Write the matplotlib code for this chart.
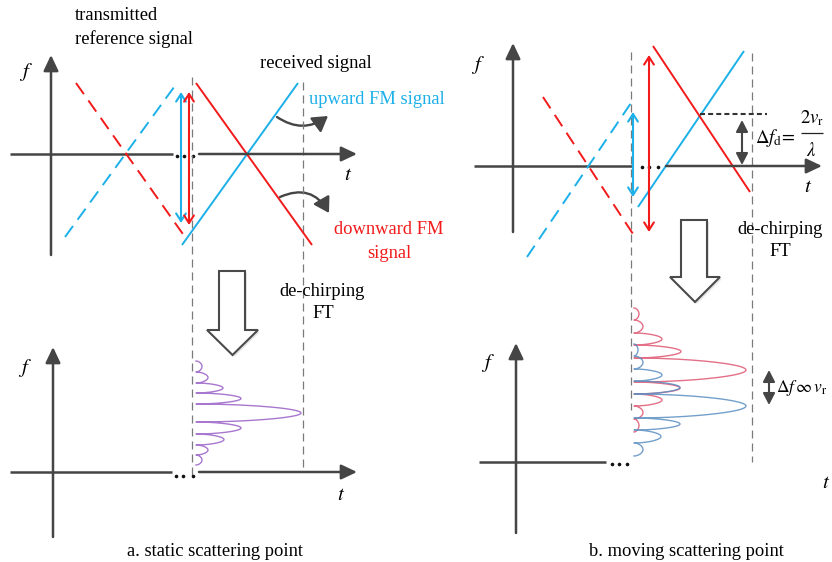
import matplotlib
matplotlib.use('Agg')
import matplotlib.pyplot as plt
import numpy as np
from matplotlib.patches import Polygon, FancyArrowPatch

plt.rcParams['font.family'] = ['Liberation Serif', 'DejaVu Serif']
plt.rcParams['mathtext.fontset'] = 'stix'

W, H = 832, 562
RED = '#f21a1a'
BLUE = '#1cb0e8'
AXC = '#454545'
GRAY = '#7a7a7a'
FS = 13.3

# ---------------- data (diagram coordinates, px) ----------------
# panel a: chirp lines  (x0, y0, x1, y1)
a_tx_down = [76, 83, 185, 237]
a_tx_up = [65, 237, 177, 83]
a_rx_up = [182, 245, 298, 83]
a_rx_down = [196, 83, 312, 245]
# panel b: chirp lines
b_tx_down = [543, 97, 635, 237]
b_tx_up = [527, 257, 633, 100]
b_rx_up = [638, 207, 744, 51]
b_rx_down = [653, 46, 750, 192]

# spectra: lobe null positions (f) and lobe peak heights
a_nulls = [361, 372, 383, 393, 404, 422, 434, 445, 455, 465]
a_peaks = [6, 12, 27, 45, 105, 45, 28, 12, 6]
b_red_nulls = [308, 320, 333, 345, 358, 382, 394, 406, 419, 432]
b_red_peaks = [5, 9, 28, 47, 112, 46, 28, 9, 5]
b_blue_nulls = [344, 356, 369, 381, 394, 418, 430, 443, 456]
b_blue_peaks = [4, 9, 28, 46, 112, 46, 27, 9]

fig = plt.figure(figsize=(8.32, 5.62), dpi=100)
ax = fig.add_axes([0, 0, 1, 1])
ax.set_xlim(0, W)
ax.set_ylim(H, 0)
ax.axis('off')


def axis_arrow(x0, y0, x1, y1):
    ax.annotate('', xy=(x1, y1), xytext=(x0, y0),
                arrowprops=dict(arrowstyle='-|>,head_length=0.95,head_width=0.45',
                                color=AXC, lw=1.8, shrinkA=0, shrinkB=0))


def seg(x0, y0, x1, y1, **kw):
    ax.plot([x0, x1], [y0, y1], solid_capstyle='butt', **kw)


def dots(xs, y):
    ax.plot(xs, [y] * len(xs), 'o', color='#111111', ms=2.6, mew=0)


def dbl(x, y0, y1, color, filled=False):
    st = ('<|-|>,head_length=0.7,head_width=0.36' if filled
          else '<->,head_length=0.55,head_width=0.35')
    ax.annotate('', xy=(x, y1), xytext=(x, y0),
                arrowprops=dict(arrowstyle=st, color=color, lw=1.5,
                                shrinkA=0, shrinkB=0))


def hollow_arrow(xl, xr, ytop, ybase, hl, hr, ytip):
    xc = (hl + hr) / 2
    pts = [(xl, ytop), (xr, ytop), (xr, ybase), (hr, ybase), (xc, ytip),
           (hl, ybase), (xl, ybase)]
    sh = [(x + 2, y + 2) for x, y in pts]
    ax.add_patch(Polygon(sh, closed=True, fc='#e6e6e6', ec='none', zorder=4))
    ax.add_patch(Polygon(pts, closed=True, fc='white', ec='#4a4a4a', lw=1.5,
                         joinstyle='miter', zorder=5))


def spectrum(base, nulls, peaks, color, lw=1.0, alpha=1.0):
    ys, xs = [], []
    for i, p in enumerate(peaks):
        y = np.linspace(nulls[i], nulls[i + 1], 60)
        s = np.linspace(0, 1, 60)
        ys.append(y)
        xs.append(base + p * np.sin(np.pi * s) ** 0.5)
    ax.plot(np.concatenate(xs), np.concatenate(ys), color=color, lw=lw,
            alpha=alpha, zorder=3)


def label(x, y, s, **kw):
    kw.setdefault('fontsize', FS)
    kw.setdefault('ha', 'center')
    kw.setdefault('va', 'center')
    ax.text(x, y, s, **kw)


# ================= Panel a, top =================
axis_arrow(51, 255, 51, 55)
seg(10, 154, 173, 154, color=AXC, lw=1.8)
axis_arrow(199, 154, 357, 154)
dots([177, 184, 193], 156)
label(26, 72, '$f$', fontsize=15)
label(348, 175, '$t$', fontsize=15)

seg(192, 77, 192, 480, color=GRAY, lw=0.9, dashes=(6.4, 4))
seg(303, 82, 303, 472, color=GRAY, lw=0.9, dashes=(6.4, 4))

seg(*a_tx_down, color=RED, lw=1.4, dashes=(7, 4))
seg(*a_tx_up, color=BLUE, lw=1.4, dashes=(7, 4))
seg(*a_rx_up, color=BLUE, lw=1.4)
seg(*a_rx_down, color=RED, lw=1.4)
dbl(181, 92, 223, BLUE)
dbl(189, 92, 225, RED)

label(75, 16, 'transmitted', ha='left')
label(75, 39, 'reference signal', ha='left')
label(260, 64, 'received signal', ha='left')
label(309, 99, 'upward FM signal', ha='left', color=BLUE)
label(389, 230, 'downward FM', color=RED)
label(389, 253, 'signal', color=RED)

ax.add_patch(FancyArrowPatch((277, 117), (328, 116), connectionstyle='arc3,rad=0.35',
                             arrowstyle='-|>,head_length=9,head_width=5.5',
                             color=AXC, lw=1.7, shrinkA=0, shrinkB=0))
ax.add_patch(FancyArrowPatch((280, 197), (329, 213), connectionstyle='arc3,rad=-0.45',
                             arrowstyle='-|>,head_length=9,head_width=5.5',
                             color=AXC, lw=1.7, shrinkA=0, shrinkB=0))

hollow_arrow(219, 245, 271, 330, 207, 258, 355)
label(322, 291, 'de-chirping')
label(323, 313, 'FT')

# ================= Panel a, bottom =================
axis_arrow(53, 537, 53, 347)
seg(10, 472, 172, 472, color=AXC, lw=1.8)
axis_arrow(199, 472, 357, 472)
dots([176, 183, 193], 476)
label(25, 368, '$f$', fontsize=15)
label(341, 495, '$t$', fontsize=15)
spectrum(196, a_nulls, a_peaks, '#a877cf', lw=1.0)
label(215, 552, 'a. static scattering point')

# ================= Panel b, top =================
axis_arrow(513, 232, 513, 43)
seg(474, 166, 633, 166, color=AXC, lw=1.8)
axis_arrow(666, 166, 822, 166)
dots([642, 649, 658], 167)
label(478, 65, '$f$', fontsize=15)
label(808, 188, '$t$', fontsize=15)

seg(631, 52, 631, 410, color=GRAY, lw=0.9, dashes=(6.4, 4))
seg(752, 53, 752, 462, color=GRAY, lw=0.9, dashes=(6.4, 4))

seg(*b_tx_down, color=RED, lw=1.4, dashes=(7, 4))
seg(*b_tx_up, color=BLUE, lw=1.4, dashes=(7, 4))
seg(*b_rx_up, color=BLUE, lw=1.4)
seg(*b_rx_down, color=RED, lw=1.4)
dbl(633, 112, 197, BLUE)
dbl(649, 55, 232, RED)

seg(700, 114, 767, 114, color='#333333', lw=1.5, dashes=(2.4, 1.5))
dbl(742, 120, 165, AXC, filled=True)
label(755, 138, r'$\Delta f_{\mathrm{d}}\!=$', ha='left', fontsize=13.5)
label(812, 118, r'$2v_{\mathrm{r}}$', fontsize=13.5)
seg(801, 133, 823, 133, color='#222222', lw=0.9)
label(811, 151, r'$\lambda$', fontsize=13.5)

hollow_arrow(681, 707, 220, 277, 670, 720, 302)
label(780, 230, 'de-chirping')
label(780, 252, 'FT')

# ================= Panel b, bottom =================
axis_arrow(516, 533, 516, 343)
seg(479, 462, 606, 462, color=AXC, lw=1.8)
axis_arrow(633, 462, 842, 462)
dots([612, 619, 627], 464)
label(488, 363, '$f$', fontsize=15)
label(826, 483, '$t$', fontsize=15)
spectrum(634, b_red_nulls, b_red_peaks, '#e0607a', lw=1.0, alpha=0.9)
spectrum(634, b_blue_nulls, b_blue_peaks, '#5b8fc2', lw=1.0, alpha=0.85)
dbl(769, 370, 405, AXC, filled=True)
label(776, 388, r'$\Delta f\,\infty\,v_{\mathrm{r}}$', ha='left', fontsize=12.5)
label(686, 552, 'b. moving scattering point')

fig.savefig('out.png', dpi=100)
